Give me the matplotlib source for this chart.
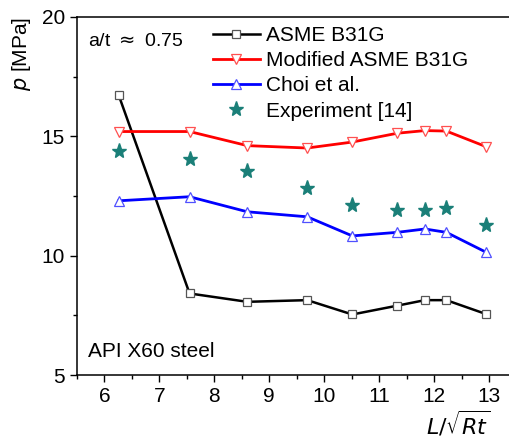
"""Burst pressure vs normalised defect length, API X60 steel, a/t ~ 0.75."""
import matplotlib
matplotlib.use('Agg')
import matplotlib.pyplot as plt
from matplotlib.ticker import MultipleLocator

plt.rcParams['font.family'] = ['Liberation Sans', 'DejaVu Sans']
plt.rcParams['mathtext.fontset'] = 'dejavusans'

# L / sqrt(Rt) for each test
l_norm = [6.26, 7.55, 8.60, 9.69, 10.51, 11.33, 11.83, 12.22, 12.94]

# burst pressure [MPa]
p_b31g     = [16.73, 8.42, 8.07, 8.14, 7.54, 7.91, 8.14, 8.14, 7.56]
p_mod_b31g = [15.20, 15.20, 14.61, 14.51, 14.76, 15.13, 15.24, 15.22, 14.57]
p_choi     = [12.30, 12.47, 11.84, 11.63, 10.83, 10.98, 11.12, 10.98, 10.15]
p_exp      = [14.39, 14.04, 13.56, 12.82, 12.11, 11.90, 11.90, 12.00, 11.29]

fig = plt.figure(figsize=(5.09, 4.45), dpi=100)
ax = fig.add_axes([0.151, 0.157, 0.849, 0.805])

ax.plot(l_norm, p_b31g, 's-', color='black', lw=1.8, ms=6, mfc='white',
        mec='#555555', mew=0.9, label='ASME B31G')
ax.plot(l_norm, p_mod_b31g, 'v-', color='#ff0000', lw=2, ms=7, mfc='white',
        mec='#ff5050', mew=0.9, label='Modified ASME B31G')
ax.plot(l_norm, p_choi, '^-', color='#0000ff', lw=2, ms=7, mfc='white',
        mec='#5050ff', mew=0.9, label='Choi et al.')
ax.plot(l_norm, p_exp, '*', color='#1a7f78', ms=11, ls='none',
        label='Experiment [14]')

ax.set_xlim(5.5, 13.36)
ax.set_ylim(5, 20)
ax.xaxis.set_major_locator(MultipleLocator(1))
ax.xaxis.set_minor_locator(MultipleLocator(0.5))
ax.yaxis.set_major_locator(MultipleLocator(5))
ax.yaxis.set_minor_locator(MultipleLocator(2.5))
ax.tick_params(which='major', direction='out', length=5, width=1,
               labelsize=15)
ax.tick_params(which='minor', direction='out', length=3, width=1)
ax.spines['right'].set_visible(False)
for s in ('left', 'bottom', 'top'):
    ax.spines[s].set_linewidth(1.1)

ax.set_ylabel(r'$p$ [MPa]', fontsize=15, loc='top', labelpad=6)
ax.set_xlabel(r'$L/\sqrt{Rt}$', fontsize=16, loc='right')
ax.xaxis.set_label_coords(0.958, -0.098)

ax.text(0.025, 0.93, r'a/t $\approx$ 0.75', transform=ax.transAxes,
        fontsize=14, va='center')
ax.text(0.025, 0.065, 'API X60 steel', transform=ax.transAxes,
        fontsize=15, va='center')

ax.legend(loc='upper left', bbox_to_anchor=(0.285, 1.01), frameon=False,
          fontsize=15, handlelength=2.3, handletextpad=0.25,
          labelspacing=0.3, borderaxespad=0.2)

fig.savefig('out.png', dpi=100)
